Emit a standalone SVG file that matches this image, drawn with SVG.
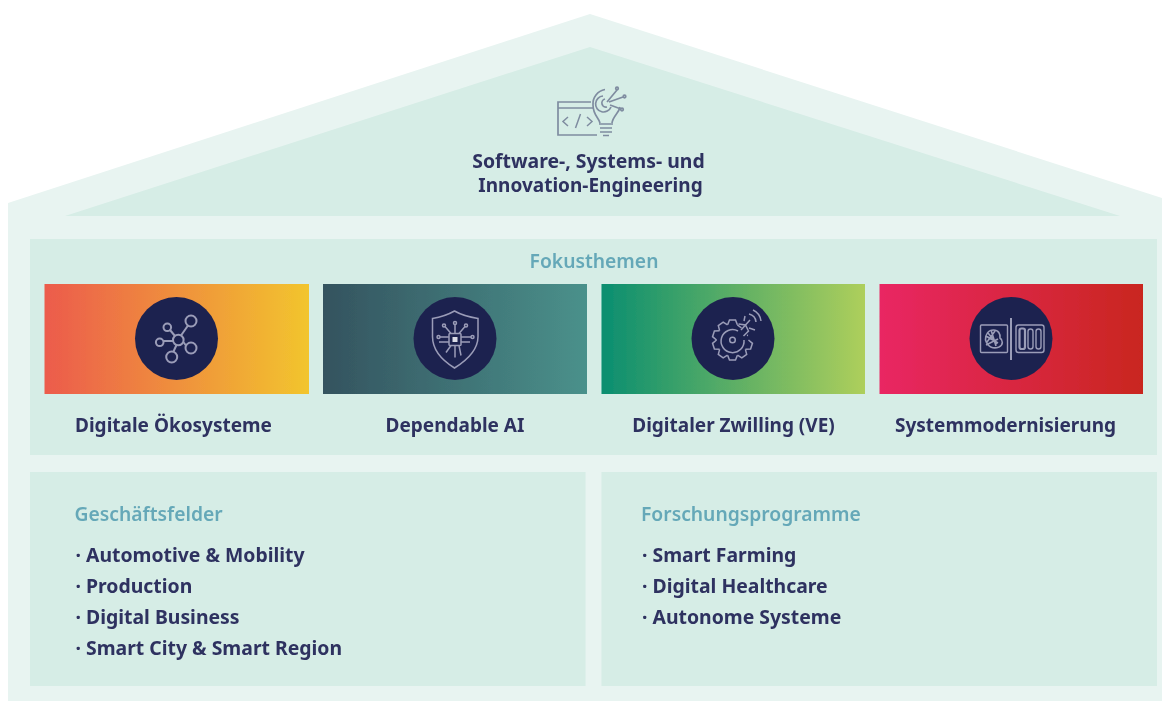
<svg xmlns="http://www.w3.org/2000/svg" width="1162" height="702" viewBox="0 0 1162 702">
<style>
text{font-family:"Noto Sans","Open Sans","Liberation Sans",sans-serif;font-weight:700;fill:#2e3160;font-size:19.4px}
.c{text-anchor:middle}
text.l{font-size:19px}
text.h{fill:#65a8b8;font-weight:600;font-size:19.3px}
.p{fill:#d6ede6}
.d{fill:#1f2250}
.i{fill:none;stroke:#9a9db8;stroke-width:1.6}
.t{fill:none;stroke:#7f8ca0;stroke-width:1.7}
</style>
<defs>
<filter id="soft" x="-5%" y="-5%" width="110%" height="110%"><feGaussianBlur stdDeviation="0.5"/></filter>
<linearGradient id="g1"><stop offset="0" stop-color="#ec5b4c"/><stop offset="1" stop-color="#f2c52d"/></linearGradient>
<linearGradient id="g2"><stop offset="0" stop-color="#34535f"/><stop offset="1" stop-color="#4a918b"/></linearGradient>
<linearGradient id="g3"><stop offset="0" stop-color="#0a8e70"/><stop offset="1" stop-color="#aecf5b"/></linearGradient>
<linearGradient id="g4"><stop offset="0" stop-color="#e92763"/><stop offset="1" stop-color="#c9261f"/></linearGradient>
<path id="tooth" d="M-4.900 -15.200L-3 -20H3L4.900 -15.200"/>
</defs>
<rect width="1162" height="702" fill="#fff"/>
<g id="house" filter="url(#soft)">
<path d="M8 203 L590 14 L1162 198 V701 H8Z" fill="#e8f4f1"/>
</g>
<g id="roof" filter="url(#soft)">
<path class="p" d="M65 216 L590 47 L1120 216Z"/>
<g class="t">
<path d="M591 102H558V135H597M558 108H594"/>
<path d="M568 117l-5 4.500 5 4.500M587 117l5 4.500-5 4.500M580.500 114l-5 14" stroke-width="1.500"/>
<path d="M600 123c-1-5-7-8-7-18a14.500 14.500 0 0 1 12-15.500M620 107c-1 6-7 9-8 16M599 124h14M600 128h12M600 132h12M603 135.500h6"/>
<path d="M603 96a8 8 0 1 0 8 11M605 99a4 4 0 1 0 2 8"/>
<path d="M607 102l10-12M609 102l14-5M610 105l11 4"/>
<circle cx="617" cy="88.500" r="1.300"/><circle cx="624.500" cy="96.500" r="1.300"/><circle cx="622" cy="109.500" r="1.300"/>
</g>
<text class="c" x="588.500" y="168">Software-, Systems- und</text>
<text class="c l" x="590.500" y="192">Innovation-Engineering</text>
</g>
<g id="fokusthemen" filter="url(#soft)">
<rect class="p" x="30" y="239" width="1127" height="216"/>
<text class="c h" x="594" y="268">Fokusthemen</text>
</g>
<g id="digitale-oekosysteme" filter="url(#soft)">
<rect x="44.500" y="284" width="264.500" height="110" fill="url(#g1)"/>
<circle class="d" cx="176.500" cy="338.500" r="41.500"/>
<g class="i" style="stroke-width:2">
<circle cx="178.300" cy="340" r="5.300"/><circle cx="191" cy="321" r="5.500"/><circle cx="191" cy="348" r="5.500"/>
<circle cx="171.700" cy="357" r="5.500"/><circle cx="159.700" cy="342.300" r="3.800"/><circle cx="167.300" cy="327.300" r="3.800"/>
<path d="M181 335.500L188 325.500M183.300 342L186 345.500M176.500 345L173.500 351.500M173 341H163.500M175 336L170 330"/>
</g>
</g>
<g id="dependable-ai" filter="url(#soft)">
<rect x="323" y="284" width="264" height="110" fill="url(#g2)"/>
<circle class="d" cx="455" cy="338.500" r="41.500"/>
<g class="i" style="stroke-width:1.500">
<path d="M454.500 311c7 4 14 6 23.500 7.500v18c0 15-13 25-23.500 31.500-10.500-6.500-22-16.500-22-31.500v-18c9-1.500 15-3.500 22-7.500z"/>
<rect x="449" y="333.500" width="12" height="12" rx="1"/>
<path d="M455 333.500v-9M451 333.500l-6-7M459 333.500l6-7M449 337h-9M461 337h10M449 342h-10M461 342h9M451 345.500l-5 7M459 345.500l2 10M455 345.500v12"/>
<circle cx="455" cy="323" r="1.500"/><circle cx="444" cy="325.500" r="1.500"/><circle cx="466" cy="325.500" r="1.500"/><circle cx="438.500" cy="337" r="1.500"/><circle cx="472.500" cy="337" r="1.500"/>
</g>
<rect x="452.500" y="337" width="5" height="5" fill="#d9dbe6"/>
</g>
<g id="digitaler-zwilling" filter="url(#soft)">
<rect x="601.500" y="284" width="263.500" height="110" fill="url(#g3)"/>
<circle class="d" cx="733" cy="338.500" r="41.500"/>
<g class="i" style="stroke-width:1.500">
<g transform="translate(732.500 340)">
<use href="#tooth"/>
<use href="#tooth" transform="rotate(108)"/>
<use href="#tooth" transform="rotate(144)"/>
<use href="#tooth" transform="rotate(180)"/>
<use href="#tooth" transform="rotate(216)"/>
<use href="#tooth" transform="rotate(252)"/>
<use href="#tooth" transform="rotate(288)"/>
<use href="#tooth" transform="rotate(324)"/>
<path d="M4.900 -15.200L9 -12M15.500 -4.500L14.500 -4.800"/>
</g>
<path d="M738 331a11.500 11.500 0 1 0 6 9"/><circle cx="732.500" cy="340" r="2.800"/>
<path d="M741 330l9-10M738.500 324l7 1 3 6-5 5M749 328l6 2M744 321l1-5M749 314a9 9 0 0 1 7 8M753 310a14 14 0 0 1 8 11"/>
</g>
</g>
<g id="systemmodernisierung" filter="url(#soft)">
<rect x="879.500" y="284" width="263.500" height="110" fill="url(#g4)"/>
<circle class="d" cx="1011" cy="338.500" r="41.500"/>
<g class="i" style="stroke-width:1.400">
<rect x="980.500" y="325" width="27" height="27.500" rx="1"/>
<path d="M1011 318v42" style="stroke-width:2"/>
<rect x="1016" y="325" width="28" height="27.500" rx="2.500"/>
<rect x="1019.500" y="328.500" width="5.500" height="20.500" rx="2" style="stroke-width:2.200"/><rect x="1028" y="329" width="5" height="20" rx="2.500"/><rect x="1036" y="329" width="5" height="20" rx="2.500"/>
<path d="M985.500 340c0-6 3-10 8-10 5 0 7 4 6.500 8 3 2 3.500 7-1 9-5 2-11 1-13.500-7zM988 333l9 11M995 331l-8 11M986 345l12-6M991 330l5 16M986 336l12 7" style="stroke-width:1.600"/>
</g>
</g>
<g id="themen-labels" filter="url(#soft)">
<text class="c l" x="173.500" y="432">Digitale Ökosysteme</text>
<text class="c l" x="455" y="432">Dependable AI</text>
<text class="c l" x="733.500" y="432">Digitaler Zwilling (VE)</text>
<text class="c l" x="1005.500" y="432">Systemmodernisierung</text>
</g>
<g id="geschaeftsfelder" filter="url(#soft)">
<rect class="p" x="30" y="472" width="555.500" height="214"/>
<text class="h" x="74.500" y="521">Geschäftsfelder</text>
<text x="75.500" y="562">· Automotive &amp; Mobility</text>
<text x="75.500" y="593">· Production</text>
<text x="75.500" y="624">· Digital Business</text>
<text x="75.500" y="655">· Smart City &amp; Smart Region</text>
</g>
<g id="forschungsprogramme" filter="url(#soft)">
<rect class="p" x="601.500" y="472" width="555.500" height="214"/>
<text class="h" x="641" y="521">Forschungsprogramme</text>
<text x="642" y="562">· Smart Farming</text>
<text x="642" y="593">· Digital Healthcare</text>
<text x="642" y="624">· Autonome Systeme</text>
</g>
</svg>
